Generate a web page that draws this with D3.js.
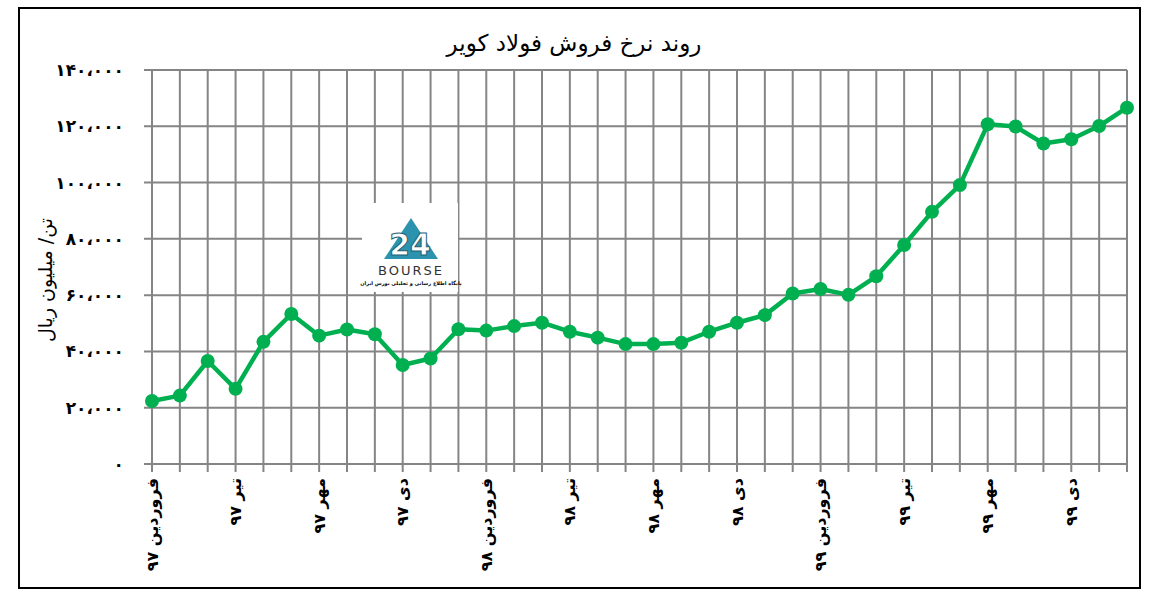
<!DOCTYPE html>
<html>
<head>
<meta charset="utf-8">
<script src="https://cdn.jsdelivr.net/npm/d3@7"></script>
<style>
  body { margin: 0; background: #fff; }
  text { font-family: "DejaVu Sans", sans-serif; }
</style>
</head>
<body>
<div id="chart"></div>
<script>
// data (rials per ton, monthly, farvardin 97 .. esfand 99)
const prices = [22400, 24300, 36600, 26700, 43400, 53300, 45600, 47800, 46100,
  35200, 37500, 47900, 47400, 49000, 50200, 47000, 44900, 42600, 42600, 43100,
  47000, 50200, 52900, 60600, 62200, 60100, 66700, 77800, 89600, 99100,
  120700, 119900, 113900, 115400, 120100, 126600];
const monthLabels = ["فروردین", "تیر", "مهر", "دی"];
const years = ["۹۷", "۹۸", "۹۹"];
const yTicks = [0, 20000, 40000, 60000, 80000, 100000, 120000, 140000];
const TITLE = "روند نرخ فروش فولاد کویر";
const Y_TITLE = "تن/ میلیون ریال";

const WIDTH = 1151;
const HEIGHT = 603;
const MARGIN = { left: 144, right: 24, top: 70, bottom: 139 };
const GREEN = "#00b050";
const GRID = "#858585";

// every 3rd month gets a label
const xLabels = prices.map((d, i) =>
  i % 3 === 0 ? monthLabels[(i / 3) % 4] + " " + years[Math.floor(i / 12)] : "");

function toPersian(s) {
  return String(s).replace(/\d/g, c => "۰۱۲۳۴۵۶۷۸۹"[+c]);
}
function fmtY(v) {
  if (v === 0) return "۰";
  return toPersian(d3.format(",")(v)).replace(/,/g, "،");
}

const svg = d3.select("#chart").append("svg")
  .attr("width", WIDTH)
  .attr("height", HEIGHT);

// outer frame
svg.append("rect")
  .attr("x", 19).attr("y", 8)
  .attr("width", 1121).attr("height", 580)
  .attr("fill", "#fff")
  .attr("stroke", "#000")
  .attr("stroke-width", 2);

svg.append("text")
  .attr("x", 574).attr("y", 51)
  .attr("text-anchor", "middle")
  .attr("font-size", 23)
  .attr("font-weight", 500)
  .text(TITLE);

const x = d3.scalePoint()
  .domain(d3.range(prices.length))
  .range([152, 1127]);

const y = d3.scaleLinear()
  .domain([0, 140000])
  .range([464, 70]);

// horizontal grid
svg.append("g")
  .selectAll("line")
  .data(yTicks)
  .join("line")
  .attr("x1", MARGIN.left)
  .attr("x2", x(prices.length - 1))
  .attr("y1", d => y(d))
  .attr("y2", d => y(d))
  .attr("stroke", GRID)
  .attr("stroke-width", 2);

// vertical grid + ticks below the axis
svg.append("g")
  .selectAll("line")
  .data(d3.range(prices.length))
  .join("line")
  .attr("x1", d => x(d))
  .attr("x2", d => x(d))
  .attr("y1", y(140000))
  .attr("y2", y(0) + 8)
  .attr("stroke", GRID)
  .attr("stroke-width", 2);

// y labels
svg.append("g")
  .selectAll("text")
  .data(yTicks)
  .join("text")
  .attr("x", 124)
  .attr("y", d => y(d))
  .attr("dy", "0.35em")
  .attr("text-anchor", "end")
  .attr("font-size", 17)
  .attr("font-weight", "bold")
  .text(d => fmtY(d));

svg.append("text")
  .attr("transform", "translate(45,280) rotate(-90)")
  .attr("dy", "0.35em")
  .attr("text-anchor", "middle")
  .attr("font-size", 19)
  .text(Y_TITLE);

// x labels, rotated
svg.append("g")
  .selectAll("text")
  .data(xLabels)
  .join("text")
  .attr("transform", (d, i) => `translate(${x(i)},478) rotate(-90)`)
  .attr("dy", "0.35em")
  .attr("text-anchor", "end")
  .attr("font-size", 16)
  .attr("font-weight", "bold")
  .text(d => d);

// logo (white patch over the grid)
const logo = svg.append("g").attr("transform", "translate(362,203)");
logo.append("rect")
  .attr("width", 96).attr("height", 89)
  .attr("fill", "#fff");
logo.append("path")
  .attr("d", "M49,15 L76,56 L22,56 Z")
  .attr("fill", "#2b93ad");
logo.append("text")
  .attr("x", 48).attr("y", 52)
  .attr("text-anchor", "middle")
  .attr("font-size", 30)
  .attr("font-weight", "bold")
  .attr("fill", "#fff")
  .attr("stroke", "#1f5f77")
  .attr("stroke-width", 1)
  .text("24");
logo.append("text")
  .attr("x", 49).attr("y", 72)
  .attr("text-anchor", "middle")
  .attr("font-size", 13)
  .attr("letter-spacing", 2)
  .attr("fill", "#333")
  .text("BOURSE");
logo.append("text")
  .attr("x", 49).attr("y", 82)
  .attr("text-anchor", "middle")
  .attr("font-size", 5)
  .attr("font-weight", "bold")
  .text("پایگاه اطلاع رسانی و تحلیلی بورس ایران");

// price line
const line = d3.line()
  .x((d, i) => x(i))
  .y(d => y(d));

svg.append("path")
  .datum(prices)
  .attr("d", line)
  .attr("fill", "none")
  .attr("stroke", GREEN)
  .attr("stroke-width", 4.5)
  .attr("stroke-linejoin", "round");

svg.append("g")
  .selectAll("circle")
  .data(prices)
  .join("circle")
  .attr("cx", (d, i) => x(i))
  .attr("cy", d => y(d))
  .attr("r", 7)
  .attr("fill", GREEN);
</script>
</body>
</html>
